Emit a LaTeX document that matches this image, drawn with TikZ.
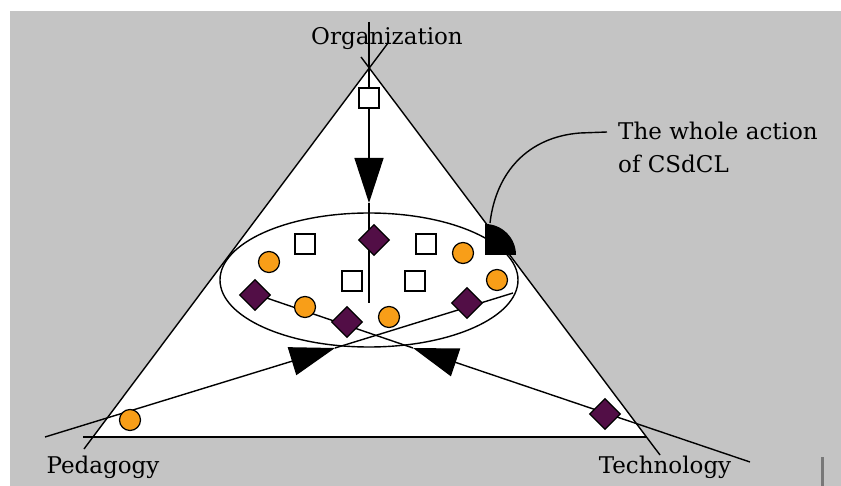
\documentclass[tikz,border=0pt]{standalone}
\usepackage{fontspec}
\setmainfont{DejaVu Serif}
\usetikzlibrary{arrows.meta,shapes.geometric}

\definecolor{bggray}{RGB}{196,196,196}
\definecolor{diamondfill}{RGB}{82,14,70}
\definecolor{dotfill}{RGB}{248,158,24}
\definecolor{cursorgray}{RGB}{120,120,120}

\tikzset{
  edge/.style={line width=1.4pt},
  bigtip/.style={-{Triangle[length=45pt,width=29pt]}},
  sqmark/.style={draw, fill=white, line width=1.6pt, minimum size=20pt, inner sep=0pt},
  dmmark/.style={diamond, draw, fill=diamondfill, line width=1.2pt, minimum size=31pt, inner sep=0pt},
  dotmark/.style={circle, draw, fill=dotfill, line width=1.2pt, minimum size=21pt, inner sep=0pt},
  axisname/.style={font=\fontsize{23}{33}\selectfont, inner sep=0pt},
}

\begin{document}
\begin{tikzpicture}[x=1pt,y=-1pt]
  %%% ground
  \useasboundingbox (0,0) rectangle (841,486);
  \fill[bggray] (10,11) rectangle (841,486);

  %%% triangle
  \coordinate (apex) at (369,68);
  \coordinate (pedC) at (93,437);
  \coordinate (tecC) at (646,437);
  \fill[white] (apex) -- (pedC) -- (tecC) -- cycle;
  \coordinate (leftLo) at (84,449);
  \coordinate (leftHi) at (388,43);
  \coordinate (rightLo) at (660,455);
  \coordinate (rightHi) at (361,57);
  \coordinate (baseL) at (83,437);
  \draw[edge] (leftLo) -- (leftHi);
  \draw[edge] (rightLo) -- (rightHi);
  \draw[edge] (baseL) -- (tecC);

  %%% ellipse
  \draw[edge] (369,280) ellipse [x radius=149, y radius=67];

  %%% corner names
  \node[axisname, anchor=base] (org) at (387,45) {Organization};
  \node[axisname, anchor=base] (ped) at (103,473) {Pedagogy};
  \node[axisname, anchor=base] (tec) at (665,473) {Technology};
  \node[axisname, anchor=base west, align=left] (whole) at (618,173) {The whole action\\of CSdCL};

  %%% the three pulls
  \coordinate (orgIn) at (369,22);
  \coordinate (orgTip) at (369,203);
  \coordinate (orgEnd) at (369,303);
  \draw[edge, bigtip] (orgIn) -- (orgTip);
  \draw[edge] (orgTip) -- (orgEnd);

  \coordinate (pedIn) at (45,437);
  \coordinate (pedTip) at (335,348);
  \coordinate (pedEnd) at (513,293);
  \draw[edge, bigtip] (pedIn) -- (pedTip);
  \draw[edge] (pedTip) -- (pedEnd);

  \coordinate (tecIn) at (750,462);
  \coordinate (tecTip) at (413,348);
  \coordinate (tecEnd) at (252,293);
  \draw[edge, bigtip] (tecIn) -- (tecTip);
  \draw[edge] (tecTip) -- (tecEnd);

  %%% callout
  \fill (485,255) -- (516,255) arc[start angle=0, end angle=-90, radius=31] -- cycle;
  \coordinate (qdTop) at (490,223);
  \coordinate (calloutEnd) at (607,132);
  \draw[edge] (qdTop) .. controls (496,172) and (528,137) .. (580,133) -- (calloutEnd);

  %%% squares
  \node[sqmark] (s1) at (369,98) {};
  \node[sqmark] (s2) at (305,244) {};
  \node[sqmark] (s3) at (426,244) {};
  \node[sqmark] (s4) at (352,281) {};
  \node[sqmark] (s5) at (415,281) {};

  %%% diamonds
  \node[dmmark] (m1) at (374,240) {};
  \node[dmmark] (m2) at (255,295) {};
  \node[dmmark] (m3) at (347,322) {};
  \node[dmmark] (m4) at (467,303) {};
  \node[dmmark] (m5) at (605,414) {};

  %%% dots
  \node[dotmark] (d1) at (269,262) {};
  \node[dotmark] (d2) at (463,253) {};
  \node[dotmark] (d3) at (497,280) {};
  \node[dotmark] (d4) at (305,307) {};
  \node[dotmark] (d5) at (389,317) {};
  \node[dotmark] (d6) at (130,420) {};

  %%% cursor mark
  \draw[line width=3pt, cursorgray] (822,457) -- (822,486);
\end{tikzpicture}
\end{document}
